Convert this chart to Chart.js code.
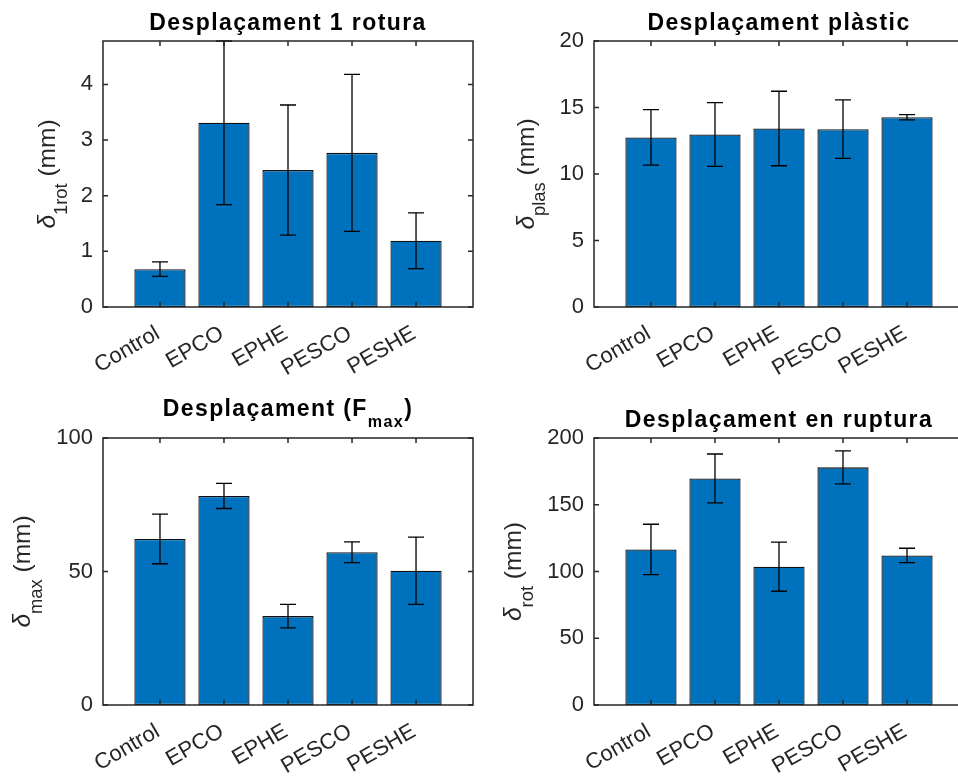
<!DOCTYPE html>
<html>
<head>
<meta charset="utf-8">
<script src="https://cdn.jsdelivr.net/npm/chart.js@4.4.0/dist/chart.umd.min.js"></script>
<style>
  html, body { margin: 0; padding: 0; background: #fff; overflow: hidden; width: 958px; height: 778px; }
  canvas { position: absolute; left: 0; top: 0; }
</style>
</head>
<body>
<canvas id="firstBreak" width="980" height="778"></canvas>
<canvas id="plastic" width="980" height="778"></canvas>
<canvas id="maxLoad" width="980" height="778"></canvas>
<canvas id="rupture" width="980" height="778"></canvas>
<script>
// Specimen groups
const categories = ['Control', 'EPCO', 'EPHE', 'PESCO', 'PESHE'];

// Displacement at first break (mm): mean and error
const firstBreakMean = [0.68, 3.31, 2.46, 2.77, 1.19];
const firstBreakErr  = [0.13, 1.47, 1.17, 1.41, 0.50];
const firstBreakTicks = [0, 1, 2, 3, 4];

// Plastic displacement (mm)
const plasticMean = [12.75, 12.97, 13.42, 13.37, 14.27];
const plasticErr  = [2.09, 2.39, 2.80, 2.20, 0.20];
const plasticTicks = [0, 5, 10, 15, 20];

// Displacement at maximum load (mm)
const maxLoadMean = [62.2, 78.3, 33.3, 57.2, 50.3];
const maxLoadErr  = [9.3, 4.7, 4.4, 3.9, 12.6];
const maxLoadTicks = [0, 50, 100];

// Displacement at rupture (mm)
const ruptureMean = [116.5, 169.7, 103.6, 178.0, 112.0];
const ruptureErr  = [18.9, 18.3, 18.4, 12.4, 5.4];
const ruptureTicks = [0, 50, 100, 150, 200];

const FONT = '"Liberation Sans", Arial, Helvetica, sans-serif';
const CANVAS_W = 980, CANVAS_H = 778;
const Y_AXIS_W = 60;
const TICK_SIZE = 22;
const LABEL_SIZE = 24.5;
const TITLE_SIZE = 23;
const AXIS_COLOR = '#262626';

// Draw a run of text pieces: plain, italic or subscript
function richParts(ctx, parts, size, weight, subScale) {
  return parts.map(([text, kind]) => {
    const s = kind === 'sub' ? size * subScale : size;
    const style = kind === 'it' ? 'italic ' : '';
    const font = `${style}${weight} ${s}px ${FONT}`;
    ctx.font = font;
    return { text, font, width: ctx.measureText(text).width, dy: kind === 'sub' ? size * 0.48 : 0 };
  });
}
function drawRich(ctx, parts, x, y, size, weight, subScale) {
  const items = richParts(ctx, parts, size, weight, subScale);
  const total = items.reduce((a, it) => a + it.width, 0);
  let cx = x - total / 2;
  ctx.textAlign = 'left';
  ctx.textBaseline = 'alphabetic';
  items.forEach(it => {
    ctx.font = it.font;
    ctx.fillText(it.text, cx, y + it.dy);
    cx += it.width;
  });
}

function decorations(cfg) {
  return {
    id: 'decorations',
    afterDatasetsDraw(chart) {
      const { ctx, chartArea: a, scales: { x, y } } = chart;
      ctx.save();

      // error bars
      ctx.strokeStyle = '#000';
      ctx.lineWidth = 1.3;
      cfg.means.forEach((m, i) => {
        const px = x.getPixelForValue(i + 1);
        const yt = y.getPixelForValue(m + cfg.errs[i]);
        const yb = y.getPixelForValue(m - cfg.errs[i]);
        ctx.beginPath();
        ctx.moveTo(px, yt); ctx.lineTo(px, yb);
        ctx.moveTo(px - 8, yt); ctx.lineTo(px + 8, yt);
        ctx.moveTo(px - 8, yb); ctx.lineTo(px + 8, yb);
        ctx.stroke();
      });

      // axes box with inward ticks on all sides
      ctx.strokeStyle = AXIS_COLOR;
      ctx.lineWidth = 1.5;
      ctx.strokeRect(a.left, a.top, a.right - a.left, a.bottom - a.top);
      ctx.beginPath();
      categories.forEach((c, i) => {
        const px = x.getPixelForValue(i + 1);
        ctx.moveTo(px, a.bottom); ctx.lineTo(px, a.bottom - 5);
        ctx.moveTo(px, a.top); ctx.lineTo(px, a.top + 5);
      });
      cfg.ticks.forEach(v => {
        const py = y.getPixelForValue(v);
        ctx.moveTo(a.left, py); ctx.lineTo(a.left + 5, py);
        ctx.moveTo(a.right, py); ctx.lineTo(a.right - 5, py);
      });
      ctx.stroke();

      // rotated category labels
      ctx.fillStyle = AXIS_COLOR;
      ctx.font = `${TICK_SIZE}px ${FONT}`;
      ctx.textAlign = 'right';
      ctx.textBaseline = 'middle';
      categories.forEach((c, i) => {
        const px = x.getPixelForValue(i + 1);
        ctx.save();
        ctx.translate(px - 2, a.bottom + 25);
        ctx.rotate(-Math.PI / 6);
        ctx.fillText(c, 0, 0);
        ctx.restore();
      });

      // title
      ctx.fillStyle = '#000';
      ctx.letterSpacing = '1.4px';
      const hasSub = cfg.title.some(p => p[1] === 'sub');
      drawRich(ctx, cfg.title, (a.left + a.right) / 2, a.top - (hasSub ? 22 : 11), TITLE_SIZE, 'bold', 0.7);
      ctx.letterSpacing = '0px';

      // vertical axis label, placed left of the widest tick label
      ctx.font = `${TICK_SIZE}px ${FONT}`;
      const tickW = Math.max(...cfg.ticks.map(v => ctx.measureText(String(v)).width));
      const lx = a.left - 10 - tickW - 26;
      ctx.fillStyle = AXIS_COLOR;
      ctx.save();
      ctx.translate(lx, (a.top + a.bottom) / 2);
      ctx.rotate(-Math.PI / 2);
      drawRich(ctx, cfg.ylabel, 0, 0, LABEL_SIZE, 'normal', 0.75);
      ctx.restore();

      ctx.restore();
    }
  };
}

function makeChart(id, cfg) {
  return new Chart(document.getElementById(id), {
    type: 'bar',
    data: {
      datasets: [{
        data: cfg.means.map((v, i) => ({ x: i + 1, y: v })),
        backgroundColor: '#0072BD',
        borderColor: '#111',
        borderWidth: 1.3,
        borderSkipped: false,
        barPercentage: 0.8,
        categoryPercentage: 1
      }]
    },
    options: {
      responsive: false,
      animation: false,
      devicePixelRatio: 1,
      layout: {
        padding: {
          left: cfg.area.left - Y_AXIS_W,
          top: cfg.area.top,
          right: CANVAS_W - cfg.area.right,
          bottom: CANVAS_H - cfg.area.bottom
        }
      },
      plugins: { legend: { display: false }, tooltip: { enabled: false }, title: { display: false } },
      scales: {
        x: {
          type: 'linear', min: 0.11, max: 5.89, offset: false, display: false,
          afterBuildTicks: s => { s.ticks = categories.map((c, i) => ({ value: i + 1 })); }
        },
        y: {
          min: 0,
          max: cfg.yMax,
          afterBuildTicks: s => { s.ticks = cfg.ticks.map(v => ({ value: v })); },
          afterFit: s => { s.width = Y_AXIS_W; },
          grid: { display: false, drawTicks: false },
          border: { display: false },
          ticks: { padding: 10, color: AXIS_COLOR, font: { family: FONT, size: TICK_SIZE } }
        }
      }
    },
    plugins: [decorations(cfg)]
  });
}

makeChart('firstBreak', {
  means: firstBreakMean, errs: firstBreakErr, ticks: firstBreakTicks,
  yMax: Math.max(...firstBreakMean.map((m, i) => m + firstBreakErr[i])),
  area: { left: 103, top: 41, right: 473, bottom: 307 },
  title: [['Desplaçament 1 rotura', '']],
  ylabel: [['δ', 'it'], ['1rot', 'sub'], [' (mm)', '']]
});
makeChart('plastic', {
  means: plasticMean, errs: plasticErr, ticks: plasticTicks, yMax: 20,
  area: { left: 594, top: 41, right: 964, bottom: 307 },
  title: [['Desplaçament plàstic', '']],
  ylabel: [['δ', 'it'], ['plas', 'sub'], [' (mm)', '']]
});
makeChart('maxLoad', {
  means: maxLoadMean, errs: maxLoadErr, ticks: maxLoadTicks, yMax: 100,
  area: { left: 103, top: 438, right: 473, bottom: 705 },
  title: [['Desplaçament (F', ''], ['max', 'sub'], [')', '']],
  ylabel: [['δ', 'it'], ['max', 'sub'], [' (mm)', '']]
});
makeChart('rupture', {
  means: ruptureMean, errs: ruptureErr, ticks: ruptureTicks, yMax: 200,
  area: { left: 594, top: 438, right: 964, bottom: 705 },
  title: [['Desplaçament en ruptura', '']],
  ylabel: [['δ', 'it'], ['rot', 'sub'], [' (mm)', '']]
});
</script>
</body>
</html>
